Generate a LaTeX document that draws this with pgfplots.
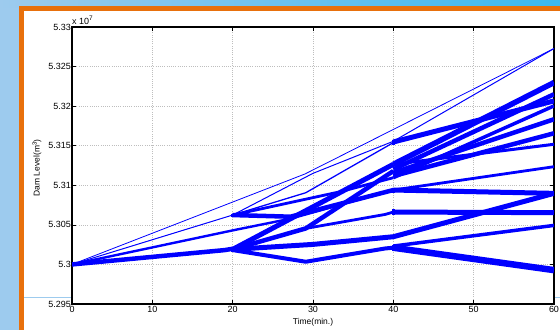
\documentclass[border=0pt]{standalone}
\usepackage{fontspec}
\setmainfont{Liberation Sans}
\usepackage{pgfplots}
\pgfplotsset{compat=1.18}
\definecolor{bgblue}{HTML}{9DCBEE}
\definecolor{bgblue2}{HTML}{3CB9F0}
\definecolor{frameorange}{HTML}{E8700C}
\definecolor{gridgray}{HTML}{BEBEBE}
\pgfplotsset{dl/.style={color=blue, no marks, line join=round}}
\begin{document}
\begin{tikzpicture}
\path[use as bounding box] (0bp,0bp) rectangle (560bp,330bp);
\fill[bgblue] (0bp,0bp) rectangle (560bp,330bp);
\shade[left color=bgblue, right color=bgblue2] (0bp,322bp) rectangle (560bp,330bp);
\fill[frameorange] (19bp,0bp) rectangle (560bp,324bp);
\fill[white] (24bp,0bp) rectangle (560bp,319bp);
\draw[bgblue, line width=0.8bp] (24bp,33bp) -- (72bp,33bp);
\draw[bgblue, line width=0.8bp] (555bp,33bp) -- (560bp,33bp);
\begin{axis}[at={(72bp,26bp)}, anchor=south west, width=482bp, height=277bp, scale only axis,
  xmin=0, xmax=60, ymin=5.295, ymax=5.33,
  xtick={0,10,20,30,40,50,60}, xticklabels={0,10,20,30,40,50,60},
  ytick={5.295,5.300,5.305,5.310,5.315,5.320,5.325,5.330},
  yticklabels={5.295,5.3,5.305,5.31,5.315,5.32,5.325,5.33},
  scaled y ticks=false,
  tick label style={font=\fontsize{9}{10}\selectfont},
  yticklabel style={inner sep=1bp},
  xticklabel style={inner sep=2bp},
  major tick length=4bp, tick style={black, line width=0.6bp},
  axis line style={line width=1.1bp},
  grid=major, major grid style={gridgray, dash pattern=on 1bp off 1.2bp, line width=0.6bp},
]
% stage 1
\addplot[dl, line width=0.8bp] coordinates {(0,5.3)(29,5.31143)(60,5.32728)};
\addplot[dl, line width=1.0bp] coordinates {(0,5.3)(20,5.30624)};
\addplot[dl, line width=2.4bp] coordinates {(0,5.3)(20,5.30430)(27.2,5.30578)(40,5.30940)};
\addplot[dl, line width=4.5bp] coordinates {(0,5.3)(19,5.30181)(20,5.30198)};
\addplot[dl, line width=3bp] coordinates {(20,5.30641)(20,5.30599)};
\addplot[dl, line width=4bp] coordinates {(20,5.30223)(20,5.30156)};
% stage 2
\addplot[dl, line width=1.0bp] coordinates {(20,5.30624)(30,5.31151)(40,5.31556)(60,5.32728)};
\addplot[dl, line width=1.3bp] coordinates {(20,5.30624)(29.1,5.30906)(40,5.31539)};
\addplot[dl, line width=4.5bp] coordinates {(20,5.30624)(27.2,5.30603)(40,5.30940)};
\addplot[dl, line width=2.8bp] coordinates {(20,5.30624)(33.4,5.30919)(40,5.31096)};
\addplot[dl, line width=5bp] coordinates {(20,5.30190)(40,5.31265)};
\addplot[dl, line width=4.5bp] coordinates {(20,5.30190)(29.1,5.30455)(40,5.31180)};
\addplot[dl, line width=2.8bp] coordinates {(20,5.30190)(29.1,5.30455)(39,5.30632)(40,5.30662)};
\addplot[dl, line width=5bp] coordinates {(20,5.30190)(30,5.30253)(40,5.30350)(60,5.30898)};
\addplot[dl, line width=4bp] coordinates {(20,5.30181)(29.1,5.30034)(39,5.30202)(40,5.30211)};
% nodes at 40
\addplot[dl, line width=3bp] coordinates {(40,5.31568)(40,5.31505)};
\addplot[dl, line width=3bp] coordinates {(40,5.30970)(40,5.30906)};
\addplot[dl, line width=3bp] coordinates {(40,5.30696)(40,5.30624)};
\addplot[dl, line width=3bp] coordinates {(40,5.30240)(40,5.30169)};
% stage 3
\addplot[dl, line width=5bp] coordinates {(40,5.31547)(60,5.32066)};
\addplot[dl, line width=5.5bp] coordinates {(40,5.31265)(60,5.32298)};
\addplot[dl, line width=4.5bp] coordinates {(40,5.31202)(60,5.32150)};
\addplot[dl, line width=4.5bp] coordinates {(40,5.31159)(60,5.31834)};
\addplot[dl, line width=3.5bp] coordinates {(40,5.31096)(60,5.32003)};
\addplot[dl, line width=4.5bp] coordinates {(40,5.31117)(60,5.31657)};
\addplot[dl, line width=3bp] coordinates {(40,5.31265)(60,5.31518)};
\addplot[dl, line width=5bp] coordinates {(40,5.30940)(60,5.30898)};
\addplot[dl, line width=2.8bp] coordinates {(40,5.30940)(60,5.31235)};
\addplot[dl, line width=5bp] coordinates {(40,5.30662)(60,5.30654)};
\addplot[dl, line width=6.5bp] coordinates {(40,5.30211)(60,5.29928)};
\addplot[dl, line width=3.5bp] coordinates {(40,5.30232)(60,5.30493)};
\end{axis}
\node[anchor=base west, font=\fontsize{9}{10}\selectfont, inner sep=0pt] at (72bp,305bp) {x 10\raisebox{4.5bp}{\fontsize{6.5}{7}\selectfont 7}};
\node[rotate=90, font=\fontsize{8.5}{10}\selectfont, inner sep=0pt] at (37bp,162bp) {Dam Level(m\raisebox{3bp}{\fontsize{6}{7}\selectfont 3})};
\node[font=\fontsize{8.5}{10}\selectfont, inner sep=0pt] at (313bp,8bp) {Time(min.)};
\end{tikzpicture}
\end{document}
